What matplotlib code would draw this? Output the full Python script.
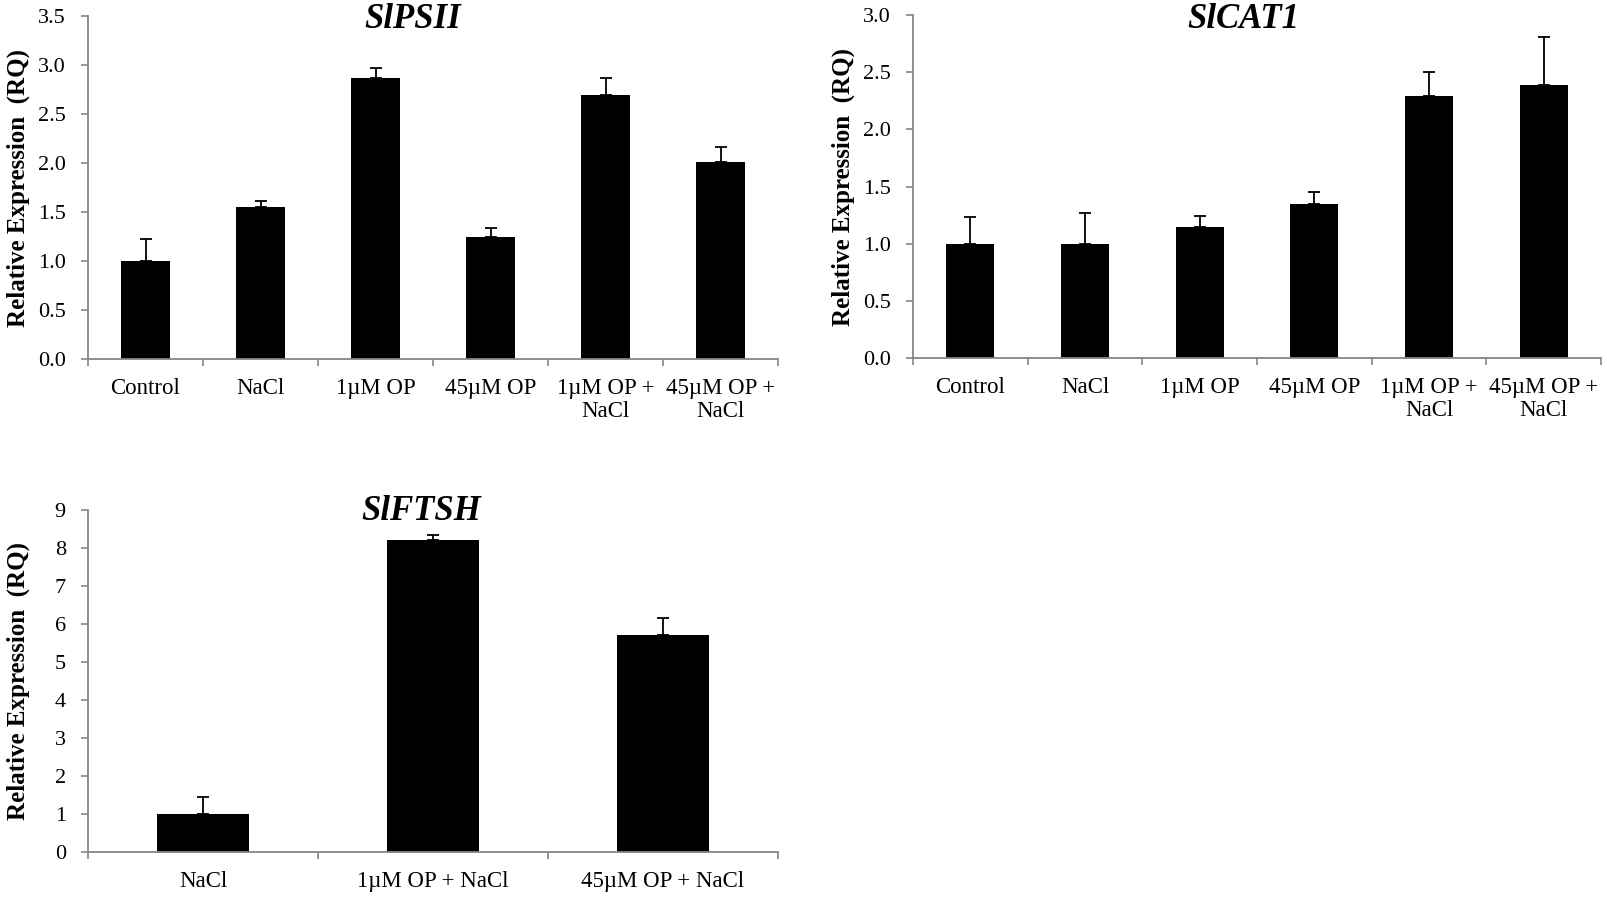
import numpy as np
import matplotlib
matplotlib.use("Agg")
import matplotlib.pyplot as plt
from matplotlib.ticker import FixedLocator, NullFormatter, FixedFormatter

plt.rcParams['font.family'] = ['Liberation Serif', 'DejaVu Serif']

# ---------------- data ----------------
psii_labels = ["Control", "NaCl", "1\u00b5M OP", "45\u00b5M OP", "1\u00b5M OP +\nNaCl", "45\u00b5M OP +\nNaCl"]
psii_values = [1.00, 1.55, 2.87, 1.25, 2.69, 2.01]
psii_errors = [0.22, 0.06, 0.10, 0.09, 0.18, 0.15]

cat1_labels = ["Control", "NaCl", "1\u00b5M OP", "45\u00b5M OP", "1\u00b5M OP +\nNaCl", "45\u00b5M OP +\nNaCl"]
cat1_values = [1.00, 1.00, 1.15, 1.35, 2.29, 2.39]
cat1_errors = [0.23, 0.27, 0.09, 0.10, 0.21, 0.42]

ftsh_labels = ["NaCl", "1\u00b5M OP + NaCl", "45\u00b5M OP + NaCl"]
ftsh_values = [1.00, 8.20, 5.70]
ftsh_errors = [0.45, 0.15, 0.45]

AXIS_GREY = "#868686"
W, H = 1608, 898


def px_axes(fig, left, top, right, bottom):
    return fig.add_axes([left / W, 1 - bottom / H, (right - left) / W, (bottom - top) / H])


def bar_panel(ax, labels, values, errors, ymax, ystep, fmt, width):
    n = len(labels)
    x = np.arange(n)
    ax.bar(x, values, width=width, color="black", zorder=2)
    ax.errorbar(x, values, yerr=[np.zeros(n), errors], fmt="none", ecolor="black",
                elinewidth=1.3, capsize=4, capthick=1.3, zorder=3)
    ax.set_xlim(-0.5, n - 0.5)
    ax.set_ylim(0, ymax)
    ax.set_yticks(np.arange(0, ymax + ystep / 2, ystep))
    ax.yaxis.set_major_formatter(plt.FormatStrFormatter(fmt))

    # category boundaries get the tick marks, labels sit in the middle
    ax.xaxis.set_major_locator(FixedLocator(np.arange(-0.5, n, 1.0)))
    ax.xaxis.set_major_formatter(NullFormatter())
    ax.xaxis.set_minor_locator(FixedLocator(x))
    ax.xaxis.set_minor_formatter(FixedFormatter(labels))
    ax.tick_params(axis="x", which="major", direction="out", length=5, width=1.2, color=AXIS_GREY)
    ax.tick_params(axis="x", which="minor", length=0, pad=14, labelsize=16.5)
    ax.tick_params(axis="y", direction="out", length=5, width=1.2, color=AXIS_GREY,
                   pad=11, labelsize=16)
    for lbl in ax.xaxis.get_minorticklabels():
        lbl.set_linespacing(1.12)

    for s in ["top", "right"]:
        ax.spines[s].set_visible(False)
    for s in ["left", "bottom"]:
        ax.spines[s].set_color(AXIS_GREY)
        ax.spines[s].set_linewidth(1.3)


fig = plt.figure(figsize=(W / 100, H / 100), dpi=100)

ax1 = px_axes(fig, 88, 16, 778, 359)
bar_panel(ax1, psii_labels, psii_values, psii_errors, 3.5, 0.5, "%.1f", 0.42)

ax2 = px_axes(fig, 913, 15, 1601, 358)
bar_panel(ax2, cat1_labels, cat1_values, cat1_errors, 3.0, 0.5, "%.1f", 0.42)

ax3 = px_axes(fig, 88, 510, 778, 852)
bar_panel(ax3, ftsh_labels, ftsh_values, ftsh_errors, 9, 1, "%d", 0.40)

ylab = "Relative Expression  (RQ)"
for ax, xpix in [(ax1, 18), (ax2, 843), (ax3, 18)]:
    pos = ax.get_position()
    fig.text(xpix / W, pos.y0 + pos.height / 2, ylab, rotation=90, ha="center", va="center",
             fontsize=18, fontweight="bold")

titles = [("SlPSII", 413, 19), ("SlCAT1", 1243, 19), ("SlFTSH", 421, 511)]
for t, xp, yp in titles:
    fig.text(xp / W, 1 - yp / H, t, ha="center", va="center", fontsize=25,
             fontweight="bold", style="italic")

fig.savefig("out.png", dpi=100, facecolor="white")
